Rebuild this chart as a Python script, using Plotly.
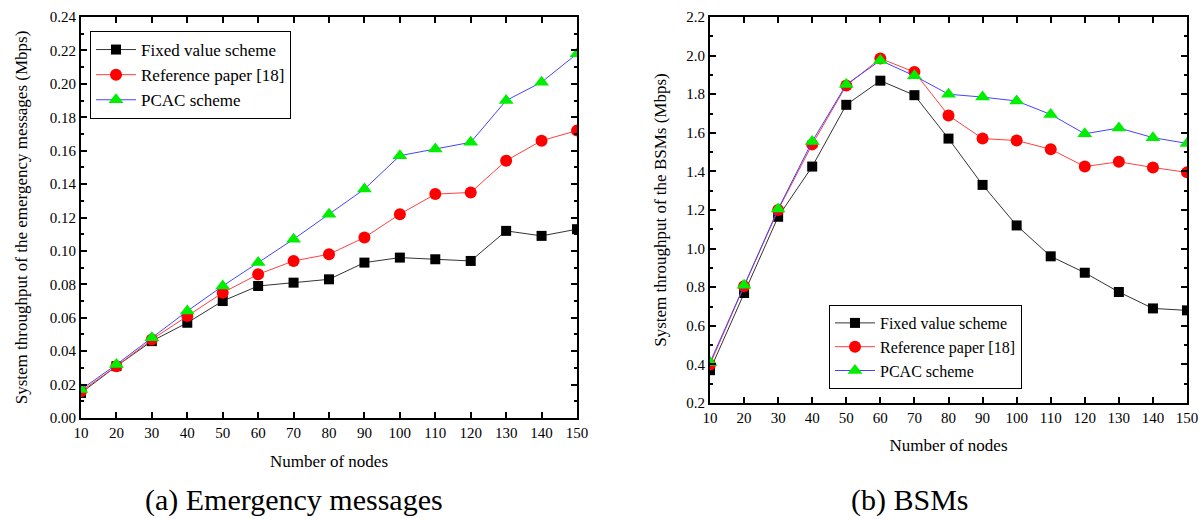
import plotly.graph_objects as go

nodes = [10, 20, 30, 40, 50, 60, 70, 80, 90, 100, 110, 120, 130, 140, 150]

# (a) Emergency messages
em_fixed = [0.015, 0.031, 0.046, 0.057, 0.070, 0.079, 0.081, 0.083, 0.093, 0.096, 0.095, 0.094, 0.112, 0.109, 0.113]
em_ref = [0.016, 0.031, 0.047, 0.061, 0.075, 0.086, 0.094, 0.098, 0.108, 0.122, 0.134, 0.135, 0.154, 0.166, 0.172]
em_pcac = [0.017, 0.032, 0.048, 0.064, 0.079, 0.093, 0.107, 0.122, 0.137, 0.157, 0.161, 0.165, 0.190, 0.201, 0.218]

# (b) BSMs
bsm_fixed = [0.37, 0.77, 1.165, 1.425, 1.745, 1.87, 1.795, 1.57, 1.33, 1.12, 0.96, 0.875, 0.775, 0.69, 0.68]
bsm_ref = [0.40, 0.805, 1.20, 1.54, 1.845, 1.985, 1.915, 1.69, 1.57, 1.56, 1.515, 1.425, 1.45, 1.42, 1.395]
bsm_pcac = [0.41, 0.81, 1.205, 1.555, 1.85, 1.975, 1.895, 1.80, 1.785, 1.765, 1.695, 1.595, 1.625, 1.575, 1.545]

series_names = ["Fixed value scheme", "Reference paper [18]", "PCAC scheme"]
tick_vals_x = nodes

FONT = "Liberation Serif, Times New Roman, serif"
OFF = 0
W, H = 1199, 519

styles = [
    dict(line=dict(color="#333333", width=1), marker=dict(symbol="square", size=10, color="black")),
    dict(line=dict(color="#ff4040", width=1), marker=dict(symbol="circle", size=12, color="#ff0000")),
    dict(line=dict(color="#4444ff", width=1), marker=dict(symbol="triangle-up", size=13, color="#00ee00")),
]

fig = go.Figure()
for i, ys in enumerate([em_fixed, em_ref, em_pcac]):
    fig.add_trace(go.Scatter(x=nodes, y=ys, mode="lines+markers", name=series_names[i],
                             xaxis="x", yaxis="y", legend="legend", **styles[i]))
for i, ys in enumerate([bsm_fixed, bsm_ref, bsm_pcac]):
    fig.add_trace(go.Scatter(x=nodes, y=ys, mode="lines+markers", name=series_names[i],
                             xaxis="x2", yaxis="y2", legend="legend2", **styles[i]))

def px_x(p):
    return (p - OFF) / W

def px_y(p):
    return 1 - (p - OFF) / H

axis_common = dict(showline=True, linecolor="black", linewidth=2, mirror="allticks",
                   ticks="inside", ticklen=6, tickwidth=1.5, tickcolor="black",
                   showgrid=False, zeroline=False, automargin=False,
                   tickfont=dict(family=FONT, size=15, color="black"))

fig.update_layout(
    width=W, height=H,
    paper_bgcolor="white", plot_bgcolor="white",
    margin=dict(l=0, r=0, t=0, b=0, autoexpand=False),
    font=dict(family=FONT, color="black"),
    xaxis=dict(domain=[px_x(81), px_x(577)], range=[10, 150], tickvals=tick_vals_x,
               anchor="y", title=dict(text="Number of nodes", font=dict(family=FONT, size=17), standoff=15),
               **axis_common),
    yaxis=dict(domain=[px_y(418), px_y(17)], range=[0, 0.24], dtick=0.02, tickformat=".2f",
               anchor="x", minor=dict(ticks="inside", ticklen=3, dtick=0.01, tickcolor="black"),
               title=dict(text="System throughput of the emergency messages (Mbps)",
                          font=dict(family=FONT, size=17), standoff=18),
               **axis_common),
    xaxis2=dict(domain=[px_x(710), px_x(1187)], range=[10, 150], tickvals=tick_vals_x,
                anchor="y2", title=dict(text="Number of nodes", font=dict(family=FONT, size=17), standoff=14),
                **axis_common),
    yaxis2=dict(domain=[px_y(403), px_y(17)], range=[0.2, 2.2], dtick=0.2, tickformat=".1f",
                anchor="x2", minor=dict(ticks="inside", ticklen=3, dtick=0.1, tickcolor="black"),
                title=dict(text="System throughput of the BSMs (Mbps)",
                           font=dict(family=FONT, size=17), standoff=15),
                **axis_common),
    legend=dict(x=px_x(90), y=px_y(31), xanchor="left", yanchor="top",
                bordercolor="black", borderwidth=1, bgcolor="white",
                font=dict(family=FONT, size=17), tracegroupgap=0, itemwidth=40),
    legend2=dict(x=px_x(829), y=px_y(305), xanchor="left", yanchor="top",
                 bordercolor="black", borderwidth=1, bgcolor="white",
                 font=dict(family=FONT, size=16), tracegroupgap=0, itemwidth=40),
    annotations=[
        dict(text="(a) Emergency messages", x=px_x(294), y=px_y(500), xref="paper", yref="paper",
             showarrow=False, font=dict(family=FONT, size=30), xanchor="center", yanchor="middle"),
        dict(text="(b) BSMs", x=px_x(910), y=px_y(500), xref="paper", yref="paper",
             showarrow=False, font=dict(family=FONT, size=30), xanchor="center", yanchor="middle"),
    ],
)

fig.write_html("out.html", config={"displayModeBar": False},
               post_script="document.body.style.margin='0px';document.body.style.overflow='hidden';")
